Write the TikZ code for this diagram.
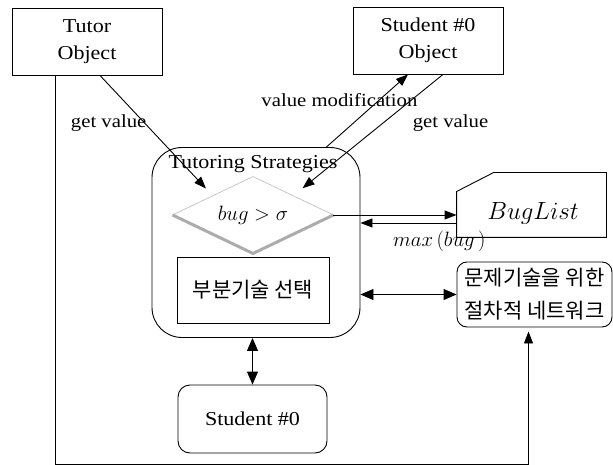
\documentclass[tikz,border=0pt]{standalone}
\usepackage{fontspec}
\setmainfont{Liberation Serif}[FakeStretch=1.12]
\newfontfamily\kor{Noto Sans CJK KR}
\usetikzlibrary{shapes.geometric,arrows.meta}
\tikzstyle{box}=[draw, inner sep=0pt, align=center, font=\fontsize{19.7}{27}\selectfont]
\tikzstyle{rbox}=[box, rounded corners=12pt]
\tikzstyle{arr}=[-{Triangle[length=12pt,width=9pt]}]
\tikzstyle{dblarr}=[{Triangle[length=13pt,width=11pt]}-{Triangle[length=13pt,width=11pt]}]
\tikzstyle{hangul}=[font=\kor\fontsize{21}{33}\selectfont]

\begin{document}
\begin{tikzpicture}[x=1pt, y=-1pt, line width=0.9pt, font=\fontsize{18.5}{26}\selectfont]
\useasboundingbox (0,0) rectangle (613,465);
% Objects
    \node[box, minimum width=150pt, minimum height=67pt] (tutor) at (87,41.5) {Tutor\\Object};
    \node[box, minimum width=150pt, minimum height=67pt] (studobj) at (428,40.5) {Student \#0\\Object};
% Tutoring strategies
    \node[box, rounded corners=30pt, minimum width=208pt, minimum height=190pt] (strat) at (256,242.5) {};
    \node[font=\fontsize{19.7}{27}\selectfont] (title) at (253,164) {Tutoring Strategies};
    \node[diamond, aspect=2.1, minimum width=160pt, minimum height=76pt, inner sep=0pt] (cond) at (253,215)
        {\fontsize{20}{24}\selectfont$bug > \sigma$};
    \draw[gray!55, line width=0.6pt] (cond.west) -- (cond.north) -- (cond.east);
    \draw[gray!65, line width=3pt, line join=miter] (cond.west) -- (cond.south) -- (cond.east);
    \node[box, hangul, minimum width=152pt, minimum height=66pt] (pick) at (253,290) {부분기술 선택};
% Student and the rest
    \node[rbox, minimum width=149pt, minimum height=68pt] (student) at (252.5,419) {Student \#0};
    \node[minimum width=149pt, minimum height=64pt, inner sep=0pt] (buglist) at (531.5,205) {};
    \draw ([yshift=-19pt]buglist.north west) -- ([xshift=37pt]buglist.north west) -- (buglist.north east)
        -- (buglist.south east) -- (buglist.south west) -- cycle;
    \node (bugtext) at (533,213) {\fontsize{25}{28}\selectfont$BugList$};
    \node[rbox, hangul, rounded corners=10pt, minimum width=155pt, minimum height=65pt] (net) at (534.5,294.5)
        {문제기술을 위한\\절차적 네트워크};
% Arrows
    \draw[arr, shorten >=10pt] ([xshift=13pt]tutor.south) -- (cond.north west)
        node[pos=0.4, anchor=east, xshift=5pt] {get value};
    \draw[arr] ([xshift=-34pt]strat.north east) -- ([xshift=-20pt]studobj.south)
        node[pos=0.65, xshift=-40pt] {value modification};
    \draw[arr, shorten >=12pt] ([xshift=15pt]studobj.south) -- (cond.north east)
        node[pos=0.4, anchor=west, xshift=26pt] {get value};
    \draw[arr] (cond.east) -- (cond.east -| buglist.west);
    \draw[arr] ([yshift=-8pt]cond.east -| buglist.west) -- ([yshift=-8pt]cond.east -| strat.east)
        node[pos=0.18, below=4pt] {\fontsize{21.5}{24}\selectfont$max\,(bug\,)$};
    \draw[dblarr] (strat.east |- net.west) -- (net.west);
    \draw[dblarr] (student.north |- strat.south) -- (student.north);
    \draw[arr, shorten >=4pt] ([xshift=-32pt]tutor.south) -- ++(0,389) -| ([xshift=-6pt]net.south);
\end{tikzpicture}
\end{document}
